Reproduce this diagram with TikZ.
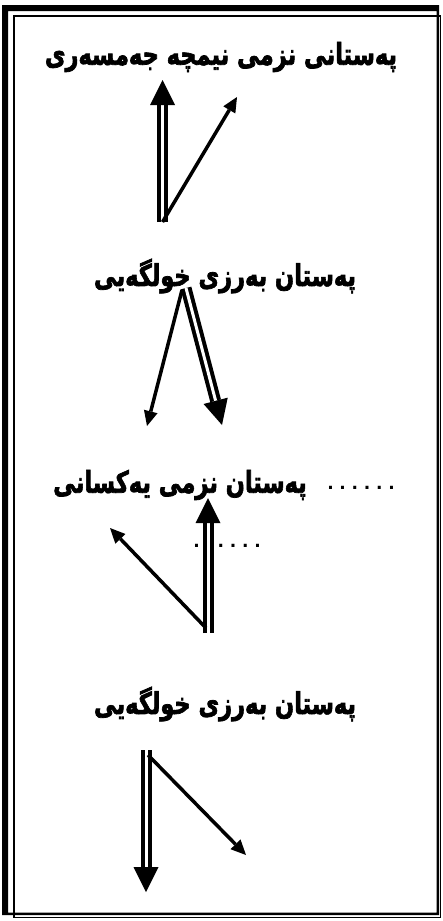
\documentclass[tikz,border=0pt]{standalone}
\usepackage{fontspec}
\TeXXeTstate=1
\newfontfamily\kfont[Script=Arabic,BoldFeatures={FakeBold=2.5}]{DejaVu Sans}
\newfontfamily\dotfont{DejaVu Sans}
\usetikzlibrary{calc}
\tikzset{
  lbl/.style={font=\kfont\bfseries\fontsize{25}{30}\selectfont, inner sep=0pt, xscale=0.9, yscale=1.2},
  dotrow/.style={font=\dotfont\bfseries\fontsize{17}{20}\selectfont, inner sep=0pt, anchor=base},
  shaft/.style={line width=11pt},
  gap/.style={white, line width=3pt},
  thin arrow/.style={line width=3.5pt},
}
\newcommand\onedot{\makebox[12.2pt]{.}}
\newcommand\sixdots{\onedot\onedot\onedot\onedot\onedot\onedot}
% double arrow from #1 to #2
\newcommand\dblarr[2]{%
  \coordinate (hb) at ($(#2)!25pt!(#1)$);
  \draw[shaft] (#1) -- (hb);
  \draw[gap] (#1) -- (hb);
  \fill ($(hb)!12.5pt!90:(#2)$) -- (#2) -- ($(hb)!12.5pt!-90:(#2)$) -- cycle;
}
% single arrow from #1 to #2
\newcommand\sglarr[2]{%
  \coordinate (sb) at ($(#2)!15pt!(#1)$);
  \draw[thin arrow] (#1) -- (sb);
  \fill ($(sb)!7pt!90:(#2)$) -- (#2) -- ($(sb)!7pt!-90:(#2)$) -- cycle;
}
\begin{document}
\begin{tikzpicture}[x=1pt,y=-1pt]
\useasboundingbox (0,0) rectangle (442,921);
\fill[white] (0,0) rectangle (442,921);
% frame
\fill[black,even odd rule] (2,5) rectangle (439,915) (8,11) rectangle (436.5,912.5);
\draw[line width=1.3pt] (14,16) rectangle (440.7,917.7);

% labels
\node[lbl] (t1) at (221,57) {\beginR پەستانی نزمی نیمچە جەمسەری\endR};
\node[lbl] (t2) at (225,276) {\beginR پەستان بەرزی خولگەیی\endR};
\node[lbl] (t3) at (180,485) {\beginR پەستان نزمی یەکسانی\endR};
\node[dotrow] (d3) at (361,489) {\sixdots};
\node[dotrow] (d4) at (227,547) {\sixdots};
\node[lbl] (t4) at (225,704) {\beginR پەستان بەرزی خولگەیی\endR};

% group 1
\coordinate (a1) at (162.5,222);
\coordinate (b1) at (162.5,80);
\coordinate (c1) at (237,97);
\dblarr{a1}{b1}
\sglarr{a1}{c1}

% group 2
\coordinate (a2) at (186,288);
\coordinate (b2) at (222,425);
\coordinate (a2s) at (182,290);
\coordinate (c2) at (147,426);
\dblarr{a2}{b2}
\sglarr{a2s}{c2}

% group 3
\coordinate (a3) at (208,633);
\coordinate (b3) at (208,498);
\coordinate (a3s) at (206,628);
\coordinate (c3) at (110,528);
\dblarr{a3}{b3}
\sglarr{a3s}{c3}

% group 4
\coordinate (a4) at (146,750);
\coordinate (b4) at (146,892);
\coordinate (a4s) at (148,755);
\coordinate (c4) at (246,855);
\dblarr{a4}{b4}
\sglarr{a4s}{c4}
\end{tikzpicture}
\end{document}
